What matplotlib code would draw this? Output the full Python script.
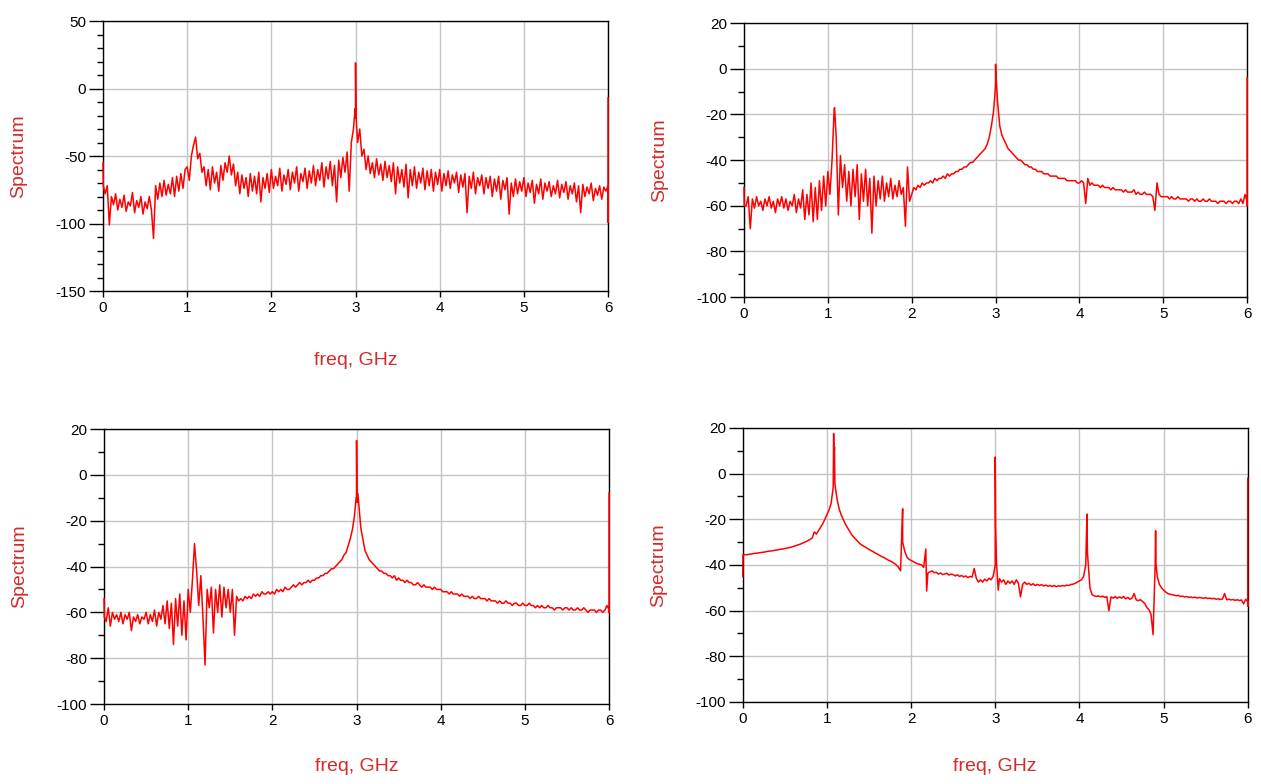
import numpy as np
import matplotlib.pyplot as plt
from matplotlib.ticker import MultipleLocator

# spectrum values, uniform grid 0..6 GHz (step 0.025 GHz)
spec1_db = [
    -55, -78, -72, -101, -80, -86, -78, -90, -82, -88, -79, -91, -84, -87, -77, -92, -83, -88, -80, -93,
    -84, -89, -80, -90, -111, -72, -82, -70, -80, -68, -79, -71, -78, -66, -80, -65, -76, -63, -74, -60,
    -58, -68, -50, -42, -36, -52, -48, -62, -58, -72, -60, -75, -58, -70, -62, -76, -57, -68, -55, -62,
    -50, -64, -56, -72, -62, -78, -64, -74, -66, -80, -63, -76, -65, -78, -62, -84, -66, -74, -63, -77,
    -60, -74, -65, -72, -59, -76, -64, -71, -60, -75, -62, -70, -58, -76, -63, -69, -59, -74, -61, -70,
    -57, -72, -60, -68, -55, -73, -58, -67, -54, -72, -57, -84, -53, -66, -51, -62, -47, -76, -40, -30,
    -22, -40, -30, -50, -45, -60, -50, -63, -55, -66, -52, -64, -56, -68, -54, -66, -57, -69, -55, -78,
    -58, -70, -60, -73, -56, -81, -60, -72, -58, -74, -62, -70, -59, -75, -61, -72, -60, -76, -62, -71,
    -60, -76, -63, -72, -61, -74, -64, -70, -62, -77, -64, -73, -63, -92, -65, -74, -62, -78, -66, -72,
    -64, -78, -66, -74, -65, -80, -67, -76, -65, -82, -68, -75, -66, -93, -70, -80, -67, -78, -69, -76,
    -66, -80, -70, -77, -68, -85, -71, -78, -67, -82, -70, -76, -69, -80, -72, -78, -68, -81, -71, -77,
    -69, -82, -72, -78, -70, -84, -72, -92, -71, -80, -73, -78, -70, -83, -74, -79, -72, -82, -73, -76,
    -72,
]
spike1_f = [0.003, 2.995, 3.0, 3.005, 3.01, 6.0, 6.0]
spike1_db = [-72, -15, 19, -18, -25, -99, -7]

spec2_db = [
    -52, -60, -56, -70, -57, -61, -56, -60, -58, -62, -57, -60, -56, -61, -58, -63, -57, -60, -56, -61,
    -57, -62, -58, -60, -55, -63, -57, -61, -53, -66, -55, -64, -50, -67, -52, -66, -49, -62, -47, -60,
    -45, -55, -40, -18, -30, -64, -38, -52, -42, -58, -45, -60, -44, -56, -42, -66, -46, -58, -44, -60,
    -48, -72, -47, -60, -49, -57, -47, -58, -50, -56, -48, -57, -51, -56, -49, -55, -52, -69, -43, -58,
    -55, -52, -53, -51, -52, -50, -51, -50, -50, -49, -50, -48, -49, -48, -48, -47, -48, -46, -47, -46,
    -46, -45, -45, -44, -44, -43, -43, -42, -41, -41, -40, -39, -38, -37, -36, -35, -33, -30, -25, -19,
    -6, -15, -25, -29, -31, -33, -35, -36, -37, -38, -39, -40, -40, -41, -42, -42, -43, -43, -44, -44,
    -45, -45, -45, -46, -46, -46, -47, -47, -47, -47, -48, -48, -48, -48, -49, -49, -49, -49, -49, -50,
    -50, -49, -50, -59, -48, -51, -50, -51, -51, -51, -52, -51, -52, -52, -52, -53, -52, -53, -53, -53,
    -53, -54, -53, -54, -54, -54, -53, -55, -54, -55, -55, -54, -55, -55, -55, -56, -62, -50, -55, -56,
    -56, -56, -56, -57, -56, -57, -57, -56, -57, -57, -57, -57, -58, -57, -57, -58, -57, -58, -58, -57,
    -58, -58, -57, -58, -58, -58, -59, -58, -58, -58, -59, -58, -58, -59, -58, -58, -59, -57, -59, -55,
    -58,
]
spike2_f = [0.003, 1.08, 2.995, 3.0, 3.005, 6.0, 6.0]
spike2_db = [-60, -17, -10, 2, -3, -60, -4]

spec3_db = [
    -54, -64, -58, -66, -60, -63, -61, -64, -60, -65, -61, -63, -60, -68, -62, -64, -61, -65, -62, -63,
    -60, -65, -61, -64, -59, -66, -60, -63, -57, -65, -55, -67, -56, -74, -54, -66, -52, -70, -55, -72,
    -50, -60, -46, -30, -42, -57, -44, -62, -83, -50, -58, -49, -69, -50, -60, -48, -62, -49, -58, -50,
    -60, -50, -70, -53, -55, -54, -55, -53, -54, -53, -54, -52, -53, -52, -53, -51, -52, -52, -51, -52,
    -51, -52, -50, -51, -50, -51, -49, -50, -50, -49, -48, -49, -48, -47, -48, -47, -47, -46, -47, -46,
    -46, -45, -45, -44, -44, -43, -43, -42, -41, -41, -40, -39, -38, -37, -35, -34, -31, -28, -24, -18,
    -10, -12, -23, -28, -33, -35, -37, -38, -39, -40, -41, -42, -42, -43, -43, -44, -44, -45, -44, -46,
    -45, -46, -46, -47, -46, -47, -47, -48, -48, -47, -48, -49, -48, -49, -49, -49, -50, -49, -50, -50,
    -50, -51, -51, -51, -52, -51, -52, -52, -52, -53, -52, -53, -53, -53, -54, -53, -54, -54, -53, -54,
    -54, -54, -55, -54, -55, -55, -55, -56, -55, -56, -56, -55, -56, -56, -57, -56, -56, -57, -57, -56,
    -57, -57, -56, -57, -57, -58, -57, -58, -57, -58, -58, -57, -58, -58, -59, -58, -58, -58, -59, -58,
    -58, -59, -58, -59, -59, -58, -59, -59, -58, -59, -60, -59, -59, -59, -60, -59, -59, -60, -59, -57,
    -59,
]
spike3_f = [0.003, 2.995, 3.0, 3.005, 3.015, 6.0, 6.0]
spike3_db = [-62, -10, 15, -12, -8, -60, -8]

spec4_db = [
    -45, -35.5, -35.5, -35.3, -35.2, -35.0, -34.9, -34.8, -34.6, -34.5, -34.4, -34.2, -34.0, -33.9, -33.8, -33.6, -33.5, -33.3, -33.1, -33.0,
    -32.8, -32.6, -32.4, -32.2, -31.9, -31.6, -31.3, -31.0, -30.6, -30.2, -29.8, -29.3, -28.8, -28.2, -25.5, -26.5, -25.0, -23.5, -22.0, -20.0,
    -18, -16, -13, -6, -6, -12, -16, -18.5, -20.5, -22.5, -24, -25.5, -27, -28, -29, -30, -30.9, -31.5, -32, -32.6,
    -33.2, -33.7, -34.2, -34.8, -35.2, -35.8, -36.3, -36.7, -37.2, -37.8, -38.2, -38.7, -39.3, -40.0, -41.0, -42.5, -30, -34, -36.5, -37.5,
    -38, -38.5, -39, -39.5, -39.7, -40, -41, -33, -43.5, -43, -42.6, -43.4, -43.2, -44, -43.5, -44.2, -44, -43.6, -44.4, -44,
    -44.2, -44.8, -44.3, -45, -44.6, -45.2, -44.8, -45.5, -45, -45.3, -41.5, -45.8, -47.5, -46.5, -47.5, -46.2, -47, -45.8, -46.5, -45,
    -40, -45, -46, -47.5, -46.5, -48.5, -47, -48, -47, -48.5, -46.5, -48, -54, -48.5, -47.5, -48.5, -48, -48.8, -48.2, -49,
    -48.5, -49, -48.6, -49.2, -48.8, -49.3, -49, -49.4, -49, -49.5, -49.1, -49.3, -49, -49.2, -48.8, -49, -48.5, -48.4, -48, -47.5,
    -47, -46.5, -45, -40, -37, -50, -53, -53.5, -53.8, -53.5, -54, -53.6, -54.2, -53.8, -60, -54, -54.5, -53.8, -54.6, -54,
    -54.5, -53.8, -54.8, -54.2, -55, -54.5, -52.5, -55.3, -55.6, -55.2, -56, -56.8, -58.6, -59.5, -61.5, -70.5, -40, -45, -48.5, -50,
    -51, -51.8, -52.5, -52.8, -53, -53.2, -53.5, -53.3, -53.8, -53.6, -54, -53.8, -54.2, -54, -54.3, -54.1, -54.5, -54.2, -54.4, -54.6,
    -54.3, -54.7, -54.5, -54.8, -54.6, -55, -54.8, -55.1, -54.9, -52.5, -55.2, -55, -55.3, -55.1, -55.5, -55.2, -55.6, -55.3, -57, -55,
    -56,
]
spike4_f = [0.003, 1.08, 1.085, 1.09, 1.095, 1.9, 2.185, 3.0, 3.005, 3.015, 3.035, 4.09, 4.095, 4.905, 4.91, 6.0, 6.0]
spike4_db = [-35.5, 17.6, 8, 11.7, -4, -15.4, -51.4, 7.3, -23.5, -39, -51, -17.7, -34, -25, -39.6, -58, -2]

RED = "#ff0000"
LABEL_RED = "#d42a2a"


def build(db, spike_f, spike_db):
    f = np.concatenate([np.linspace(0, 6, len(db)), spike_f])
    v = np.concatenate([np.asarray(db, float), spike_db])
    order = np.argsort(f, kind="stable")
    return f[order], v[order]


plt.rcParams["font.family"] = ["Liberation Sans", "DejaVu Sans"]
plt.rcParams["axes.unicode_minus"] = False

fig = plt.figure(figsize=(12.61, 7.84), dpi=100)

panels = [
    # (axes rect, data, ylim, major, xlabel y)
    ([0.0817, 0.6288, 0.4005, 0.3444], (spec1_db, spike1_f, spike1_db), (-150, 50), 50, -0.226),
    ([0.5900, 0.6210, 0.3990, 0.3495], (spec2_db, spike2_f, spike2_db), (-100, 20), 20, None),
    ([0.0825, 0.1020, 0.4005, 0.3508], (spec3_db, spike3_f, spike3_db), (-100, 20), 20, -0.196),
    ([0.5890, 0.1046, 0.4005, 0.3495], (spec4_db, spike4_f, spike4_db), (-100, 20), 20, -0.204),
]

for rect, data, ylim, major, xlab_y in panels:
    ax = fig.add_axes(rect)
    f, v = build(*data)
    ax.plot(f, v, color=RED, lw=1.1, zorder=3, clip_on=False)

    ax.set_xlim(0, 6)
    ax.set_ylim(*ylim)
    ax.xaxis.set_major_locator(MultipleLocator(1))
    ax.yaxis.set_major_locator(MultipleLocator(major))
    ax.yaxis.set_minor_locator(MultipleLocator(10))
    ax.grid(True, which="major", color="#c4c4c4", lw=1.0)
    ax.set_axisbelow(True)

    ax.tick_params(axis="x", which="major", direction="out", length=4, width=1,
                   labelsize=11, pad=3)
    ax.tick_params(axis="y", which="major", direction="out", length=10, width=1,
                   labelsize=11, pad=2)
    ax.tick_params(axis="y", which="minor", direction="out", length=4.5, width=1)
    for s in ax.spines.values():
        s.set_color("black")
        s.set_linewidth(1.0)

    ax.set_ylabel("Spectrum", color=LABEL_RED, fontsize=14)
    ax.yaxis.set_label_coords(-0.15, 0.5)
    if xlab_y is not None:
        ax.set_xlabel("freq, GHz", color=LABEL_RED, fontsize=14)
        ax.xaxis.set_label_coords(0.5, xlab_y)

fig.savefig("out.png", dpi=100)
